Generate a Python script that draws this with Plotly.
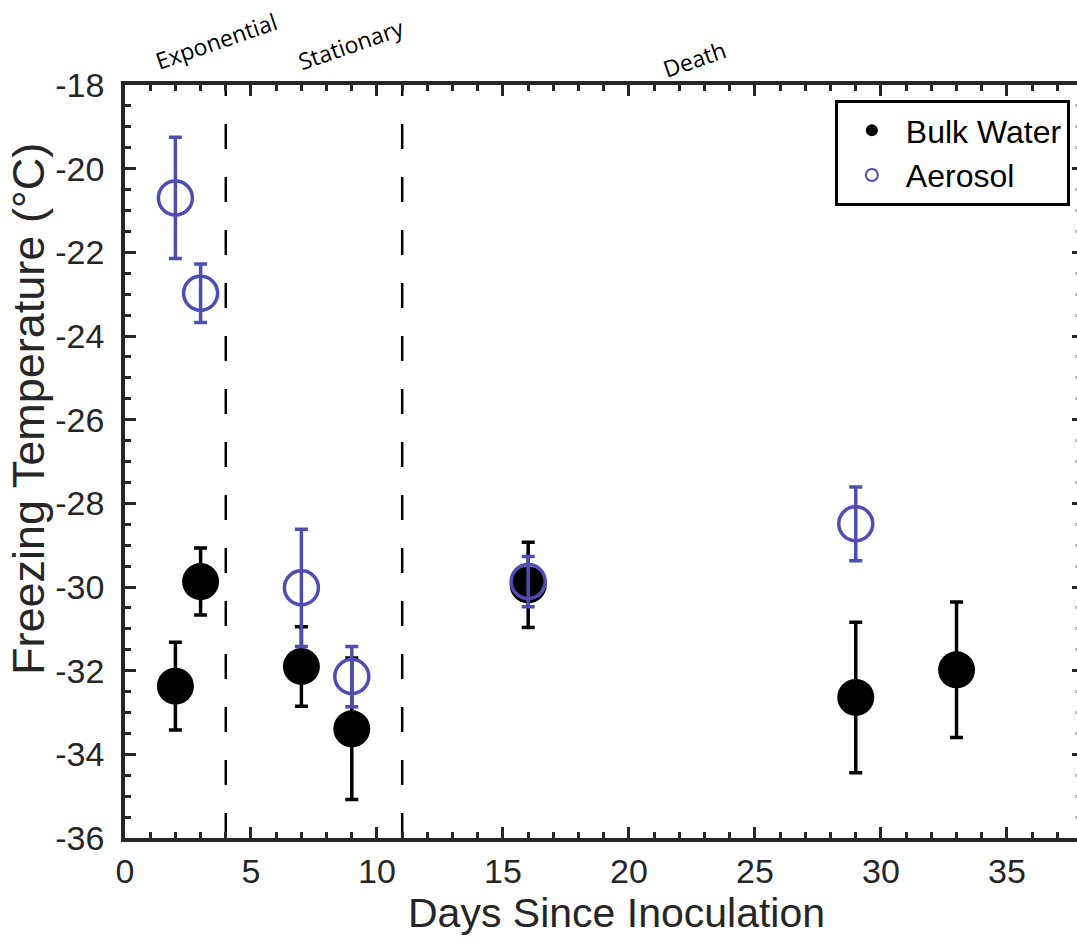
import plotly.graph_objects as go

# ---- data ----
bulk_days = [2, 3, 7, 9, 16, 29, 33]
bulk_temp = [-32.37, -29.87, -31.90, -33.39, -29.95, -32.64, -31.98]
bulk_err = [1.05, 0.80, 0.95, 1.69, 1.02, 1.80, 1.62]

aero_days = [2, 3, 7, 9, 16, 29]
aero_temp = [-20.70, -22.98, -30.02, -32.14, -29.87, -28.49]
aero_err = [1.45, 0.70, 1.40, 0.72, 0.60, 0.88]

phase_bounds = [4, 11]
phase_names = ["Exponential", "Stationary", "Death"]
phase_label_x = [3.6, 8.97, 22.6]

x_tick_vals = [0, 5, 10, 15, 20, 25, 30, 35]
x_tick_labels = ["0", "5", "10", "15", "20", "25", "30", "35"]
y_tick_vals = [-18, -20, -22, -24, -26, -28, -30, -32, -34, -36]
y_tick_labels = ["-18", "-20", "-22", "-24", "-26", "-28", "-30", "-32", "-34", "-36"]

BLUE = "rgb(77,77,179)"
AX = "#262626"
FONT = "Liberation Sans, Arial, sans-serif"

fig = go.Figure()

fig.add_trace(go.Scatter(
    x=bulk_days, y=bulk_temp, mode="markers", name="Bulk Water",
    marker=dict(symbol="circle", size=37, color="black"),
    error_y=dict(type="data", array=bulk_err, visible=True, color="black",
                 thickness=3.5, width=6.5),
))
fig.add_trace(go.Scatter(
    x=aero_days, y=aero_temp, mode="markers", name="Aerosol",
    marker=dict(symbol="circle-open", size=34, color=BLUE, line=dict(width=3.5, color=BLUE)),
    error_y=dict(type="data", array=aero_err, visible=True, color=BLUE,
                 thickness=3.5, width=6.5),
))
# dummy trace for right-side tick axis
fig.add_trace(go.Scatter(x=[None], y=[None], yaxis="y2", showlegend=False, hoverinfo="skip"))

for b in phase_bounds:
    fig.add_shape(type="line", xref="x", yref="paper", x0=b, x1=b, y0=0, y1=1,
                  line=dict(color="black", width=2.5, dash="25px,28px"), layer="below")

label_y = [1 + 44 / 753, 1 + 41 / 753, 1 + 26 / 753]
for name, lx, ly in zip(phase_names, phase_label_x, label_y):
    fig.add_annotation(x=lx, y=ly, xref="x", yref="paper", text=name, showarrow=False,
                       xanchor="center", yanchor="middle",
                       textangle=-19, font=dict(family="Open Sans, sans-serif", size=23, color="black"))

# axis titles as annotations (positioned like the reference)
fig.add_annotation(x=(616 - 125) / 952, y=-(913 - 838) / 753, xref="paper", yref="paper",
                   text="Days Since Inoculation", showarrow=False,
                   xanchor="center", yanchor="middle",
                   font=dict(family=FONT, size=41, color=AX))
fig.add_annotation(x=-(125 - 29) / 952, y=(838 - 409) / 753, xref="paper", yref="paper",
                   text="Freezing Temperature (°C)", showarrow=False, textangle=-90,
                   xanchor="center", yanchor="middle",
                   font=dict(family=FONT, size=45, color=AX))

fig.update_layout(
    width=1077, height=939,
    margin=dict(l=125, r=0, t=85, b=101),
    plot_bgcolor="white", paper_bgcolor="white",
    font=dict(family=FONT, color=AX),
    showlegend=True,
    legend=dict(x=0.9925, y=0.98, xanchor="right", yanchor="top",
                bordercolor="black", borderwidth=3, bgcolor="white",
                font=dict(family=FONT, size=32, color="black"),
                itemsizing="constant", itemwidth=58, tracegroupgap=0),
    xaxis=dict(range=[0, 37.78], tickvals=x_tick_vals, ticktext=x_tick_labels,
               ticks="inside", ticklen=11, tickwidth=3, tickcolor=AX,
               showline=True, linewidth=3.5, linecolor=AX, mirror="ticks",
               showgrid=False, zeroline=False,
               tickfont=dict(size=34, color=AX),
               minor=dict(dtick=1, tick0=0, ticks="inside", ticklen=6, tickwidth=3, tickcolor=AX, showgrid=False)),
    yaxis=dict(range=[-36, -18], tickvals=y_tick_vals, ticktext=y_tick_labels,
               ticks="inside", ticklen=11, tickwidth=3, tickcolor=AX,
               showline=True, linewidth=3.5, linecolor=AX, mirror=False,
               showgrid=False, zeroline=False,
               tickfont=dict(size=34, color=AX), ticklabelstandoff=10,
               minor=dict(dtick=0.5, tick0=0, ticks="inside", ticklen=6, tickwidth=3, tickcolor=AX, showgrid=False)),
    yaxis2=dict(range=[-36, -18], overlaying="y", side="right", tickvals=y_tick_vals,
                showticklabels=False, ticks="inside", ticklen=5, tickwidth=3, tickcolor=AX,
                showline=False, showgrid=False, zeroline=False,
                minor=dict(dtick=0.5, tick0=0, ticks="inside", ticklen=2, tickwidth=3, tickcolor="#bbbbbb", showgrid=False)),
)

fig.write_html("out.html")
